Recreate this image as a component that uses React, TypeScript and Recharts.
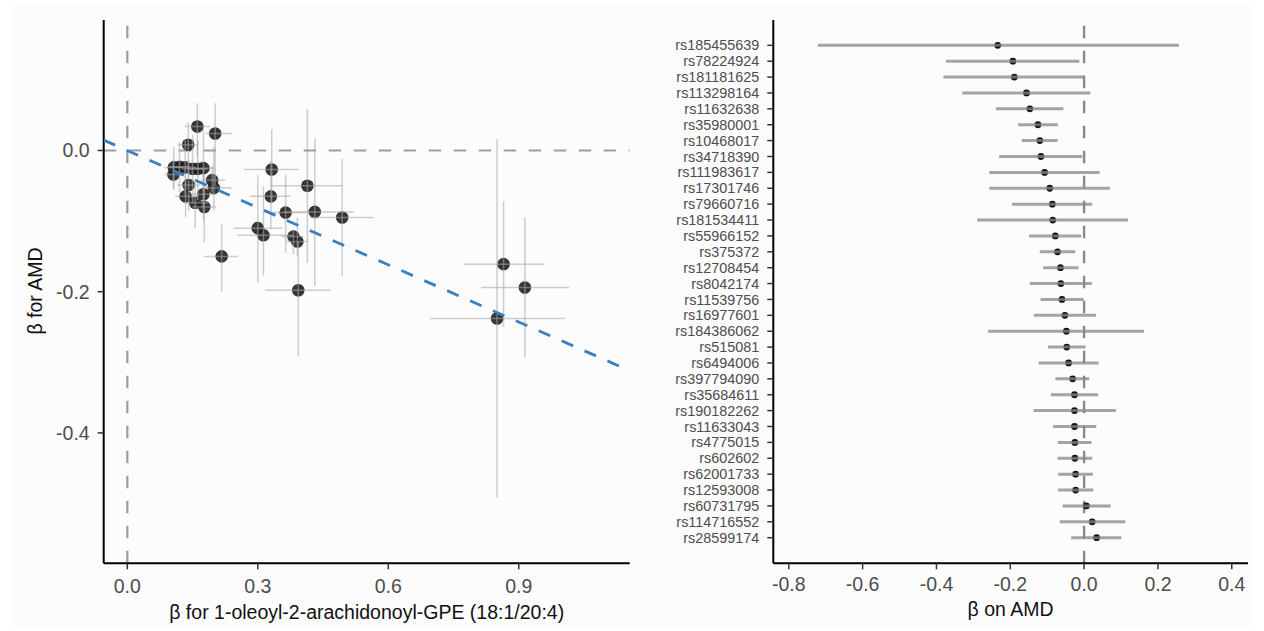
import React from "react";
import {
  ScatterChart,
  Scatter,
  XAxis,
  YAxis,
  ErrorBar,
  ReferenceLine,
} from "recharts";

// ---------- Left panel: MR scatter ----------
const exposureBeta = [
  0.161, 0.202, 0.140, 0.107, 0.120, 0.133, 0.150, 0.162, 0.175, 0.106, 0.141,
  0.195, 0.199, 0.134, 0.175, 0.156, 0.177, 0.217, 0.332, 0.414, 0.330, 0.364,
  0.431, 0.494, 0.300, 0.313, 0.382, 0.391, 0.393, 0.865, 0.914, 0.850,
];
const outcomeBeta = [
  0.034, 0.024, 0.008, -0.024, -0.023, -0.024, -0.026, -0.026, -0.025, -0.034,
  -0.049, -0.042, -0.053, -0.065, -0.062, -0.074, -0.080, -0.150, -0.027,
  -0.050, -0.065, -0.088, -0.087, -0.095, -0.110, -0.120, -0.122, -0.129,
  -0.198, -0.161, -0.194, -0.238,
];
const exposureLo = [
  0.131, 0.180, 0.115, 0.085, 0.095, 0.110, 0.125, 0.140, 0.150, 0.085, 0.115,
  0.170, 0.175, 0.110, 0.150, 0.130, 0.150, 0.177, 0.268, 0.332, 0.282, 0.320,
  0.360, 0.420, 0.244, 0.253, 0.355, 0.365, 0.317, 0.774, 0.813, 0.696,
];
const exposureHi = [
  0.190, 0.241, 0.163, 0.130, 0.145, 0.158, 0.176, 0.185, 0.200, 0.128, 0.168,
  0.225, 0.240, 0.160, 0.205, 0.185, 0.205, 0.255, 0.394, 0.494, 0.376, 0.410,
  0.520, 0.567, 0.356, 0.382, 0.405, 0.415, 0.468, 0.958, 1.016, 1.006,
];
const outcomeLo = [
  -0.009, -0.050, -0.040, -0.055, -0.060, -0.065, -0.075, -0.070, -0.080,
  -0.055, -0.085, -0.060, -0.085, -0.095, -0.100, -0.110, -0.130, -0.200,
  -0.075, -0.159, -0.110, -0.145, -0.192, -0.178, -0.187, -0.177, -0.147,
  -0.150, -0.291, -0.249, -0.293, -0.492,
];
const outcomeHi = [
  0.067, 0.067, 0.040, 0.005, 0.012, 0.015, 0.022, 0.015, 0.030, -0.012,
  -0.012, -0.022, 0.005, -0.035, -0.025, -0.040, -0.035, -0.105, 0.030, 0.059,
  -0.015, -0.034, 0.017, -0.012, -0.034, -0.050, -0.114, -0.095, -0.130,
  -0.072, -0.095, 0.016,
];
const ivwSlope = -0.27;
const leftXTicks = [0, 0.3, 0.6, 0.9];
const leftYTicks = [-0.4, -0.2, 0.0];
const leftXDomain = [-0.0543, 1.155];
const leftYDomain = [-0.5847, 0.1848];

// ---------- Right panel: single-SNP forest ----------
const snps = [
  "rs185455639", "rs78224924", "rs181181625", "rs113298164", "rs11632638",
  "rs35980001", "rs10468017", "rs34718390", "rs111983617", "rs17301746",
  "rs79660716", "rs181534411", "rs55966152", "rs375372", "rs12708454",
  "rs8042174", "rs11539756", "rs16977601", "rs184386062", "rs515081",
  "rs6494006", "rs397794090", "rs35684611", "rs190182262", "rs11633043",
  "rs4775015", "rs602602", "rs62001733", "rs12593008", "rs60731795",
  "rs114716552", "rs28599174",
];
const forestBeta = [
  -0.234, -0.193, -0.189, -0.156, -0.147, -0.125, -0.120, -0.117, -0.107,
  -0.093, -0.086, -0.085, -0.078, -0.072, -0.064, -0.063, -0.060, -0.052,
  -0.048, -0.047, -0.042, -0.031, -0.026, -0.026, -0.026, -0.025, -0.025,
  -0.023, -0.023, 0.006, 0.022, 0.034,
];
const forestLo = [
  -0.721, -0.374, -0.381, -0.330, -0.239, -0.179, -0.169, -0.230, -0.257,
  -0.257, -0.195, -0.290, -0.149, -0.120, -0.111, -0.147, -0.118, -0.136,
  -0.260, -0.098, -0.123, -0.078, -0.090, -0.137, -0.084, -0.071, -0.072,
  -0.070, -0.071, -0.058, -0.066, -0.035,
];
const forestHi = [
  0.257, -0.013, 0.001, 0.017, -0.056, -0.071, -0.072, -0.005, 0.042, 0.070,
  0.022, 0.119, -0.008, -0.024, -0.015, 0.021, -0.001, 0.032, 0.162, 0.004,
  0.039, 0.014, 0.038, 0.086, 0.033, 0.020, 0.022, 0.024, 0.025, 0.072,
  0.112, 0.101,
];
const rightXTicks = [-0.8, -0.6, -0.4, -0.2, 0.0, 0.2, 0.4];
const rightXDomain = [-0.842, 0.444];
const rightYDomain = [-0.613, 33.594];

// ---------- Tables built for the library ----------
const scatterData = exposureBeta.map((x, i) => ({
  x,
  y: outcomeBeta[i],
  ex: [x - exposureLo[i], exposureHi[i] - x],
  ey: [outcomeBeta[i] - outcomeLo[i], outcomeHi[i] - outcomeBeta[i]],
}));

const forestData = snps.map((name, i) => ({
  name,
  row: snps.length - i,
  b: forestBeta[i],
  eb: [forestBeta[i] - forestLo[i], forestHi[i] - forestBeta[i]],
}));
const rowTicks = forestData.map((d) => d.row);
const rowName = (v: number) => {
  const d = forestData.find((r) => r.row === v);
  return d ? d.name : "";
};

const FONT = '"Liberation Sans", Arial, Helvetica, sans-serif';
const fmt1 = (v: number) => v.toFixed(1);

const BigDot = (p: any) => (
  <circle cx={p.cx} cy={p.cy} r={6.3} fill="#1f1f1f" fillOpacity={0.9} />
);
const SmallDot = (p: any) => (
  <circle cx={p.cx} cy={p.cy} r={3.4} fill="#111" />
);
const NoShape = () => <g />;

const titleStyle = (
  x: number,
  y: number,
  size: number,
  rotate = 0
): React.CSSProperties => ({
  position: "absolute",
  left: x,
  top: y,
  transform: `translate(-50%, -50%) rotate(${rotate}deg)`,
  fontSize: size,
  lineHeight: 1,
  whiteSpace: "nowrap",
  color: "#111",
  fontFamily: FONT,
});

const abs = (left: number): React.CSSProperties => ({
  position: "absolute",
  left,
  top: 0,
});

// plot areas: left x 103.7..629.7, right x 773.3..1248, y 20..563.3
const LEFT_MARGIN = { top: 20, right: 10.3, bottom: 17.7, left: 43.7 };
const LEFT_OVERLAY_MARGIN = { top: 20, right: 10.3, bottom: 67.7, left: 103.7 };
const RIGHT_MARGIN = { top: 20, right: 16, bottom: 17.7, left: 13.3 };
const RIGHT_OVERLAY_MARGIN = { top: 20, right: 16, bottom: 67.7, left: 113.3 };

export default function App() {
  return (
    <div
      style={{
        position: "absolute",
        left: 0,
        top: 0,
        width: 1264,
        height: 631,
        background: "#ffffff",
        fontFamily: FONT,
        overflow: "hidden",
      }}
    >
      <div
        style={{
          position: "absolute",
          left: 10,
          top: 4,
          width: 1244,
          height: 623,
          background: "#fcfcfc",
        }}
      />
      {/* Left panel: axes, reference lines, points */}
      <div style={abs(0)}>
        <ScatterChart width={640} height={631} margin={LEFT_MARGIN}>
          <XAxis
            type="number"
            dataKey="x"
            domain={leftXDomain}
            allowDataOverflow
            ticks={leftXTicks}
            tickFormatter={fmt1}
            height={50}
            tickSize={6}
            tickMargin={10}
            axisLine={{ stroke: "#000", strokeWidth: 2 }}
            tickLine={{ stroke: "#333", strokeWidth: 1.5 }}
            tick={{ fontSize: 19.5, fill: "#4d4d4d" }}
          />
          <YAxis
            type="number"
            dataKey="y"
            domain={leftYDomain}
            allowDataOverflow
            ticks={leftYTicks}
            tickFormatter={fmt1}
            width={60}
            tickSize={6}
            tickMargin={8}
            axisLine={{ stroke: "#000", strokeWidth: 2 }}
            tickLine={{ stroke: "#333", strokeWidth: 1.5 }}
            tick={{ fontSize: 19.5, fill: "#4d4d4d" }}
          />
          <ReferenceLine
            y={0}
            stroke="#9e9e9e"
            strokeWidth={2.2}
            strokeDasharray="12.5 12.5"
          />
          <ReferenceLine
            x={0}
            stroke="#9e9e9e"
            strokeWidth={2.2}
            strokeDasharray="12.5 12.5"
          />
          <Scatter data={scatterData} shape={BigDot} isAnimationActive={false} />
        </ScatterChart>
      </div>
      {/* Left panel overlay: error bars and IVW line drawn on top of points */}
      <div style={abs(0)}>
        <ScatterChart width={640} height={631} margin={LEFT_OVERLAY_MARGIN}>
          <XAxis
            type="number"
            dataKey="x"
            domain={leftXDomain}
            allowDataOverflow
            hide
          />
          <YAxis
            type="number"
            dataKey="y"
            domain={leftYDomain}
            allowDataOverflow
            hide
          />
          <Scatter data={scatterData} shape={NoShape} isAnimationActive={false}>
            <ErrorBar
              dataKey="ex"
              direction="x"
              width={0}
              stroke="rgba(165,165,165,0.55)"
              strokeWidth={1.5}
              isAnimationActive={false}
            />
            <ErrorBar
              dataKey="ey"
              direction="y"
              width={0}
              stroke="rgba(165,165,165,0.55)"
              strokeWidth={1.5}
              isAnimationActive={false}
            />
          </Scatter>
          <ReferenceLine
            segment={[
              { x: leftXDomain[0], y: ivwSlope * leftXDomain[0] },
              { x: leftXDomain[1], y: ivwSlope * leftXDomain[1] },
            ]}
            stroke="#3a80c0"
            strokeWidth={2.8}
            strokeDasharray="12.5 12.5"
            ifOverflow="hidden"
          />
        </ScatterChart>
      </div>
      <div style={titleStyle(366.7, 613.3, 19.5)}>
        β for 1-oleoyl-2-arachidonoyl-GPE (18:1/20:4)
      </div>
      <div style={titleStyle(36, 291, 19.5, -90)}>β for AMD</div>

      {/* Right panel: axes, reference line, points */}
      <div style={abs(660)}>
        <ScatterChart width={604} height={631} margin={RIGHT_MARGIN}>
          <XAxis
            type="number"
            dataKey="b"
            domain={rightXDomain}
            allowDataOverflow
            ticks={rightXTicks}
            tickFormatter={fmt1}
            height={50}
            tickSize={6}
            tickMargin={8}
            axisLine={{ stroke: "#000", strokeWidth: 2 }}
            tickLine={{ stroke: "#333", strokeWidth: 1.5 }}
            tick={{ fontSize: 19.5, fill: "#4d4d4d" }}
          />
          <YAxis
            type="number"
            dataKey="row"
            domain={rightYDomain}
            allowDataOverflow
            ticks={rowTicks}
            interval={0}
            tickFormatter={rowName}
            width={100}
            tickSize={6}
            tickMargin={8}
            axisLine={{ stroke: "#000", strokeWidth: 2 }}
            tickLine={{ stroke: "#333", strokeWidth: 1.5 }}
            tick={{ fontSize: 14.4, fill: "#4d4d4d" }}
          />
          <ReferenceLine
            x={0}
            stroke="#8a8a8a"
            strokeWidth={2.4}
            strokeDasharray="12.5 12.5"
          />
          <Scatter data={forestData} shape={SmallDot} isAnimationActive={false} />
        </ScatterChart>
      </div>
      {/* Right panel overlay: CI bars on top of points */}
      <div style={abs(660)}>
        <ScatterChart width={604} height={631} margin={RIGHT_OVERLAY_MARGIN}>
          <XAxis
            type="number"
            dataKey="b"
            domain={rightXDomain}
            allowDataOverflow
            hide
          />
          <YAxis
            type="number"
            dataKey="row"
            domain={rightYDomain}
            allowDataOverflow
            hide
          />
          <Scatter data={forestData} shape={NoShape} isAnimationActive={false}>
            <ErrorBar
              dataKey="eb"
              direction="x"
              width={0}
              stroke="rgba(135,135,135,0.75)"
              strokeWidth={3}
              isAnimationActive={false}
            />
          </Scatter>
        </ScatterChart>
      </div>
      <div style={titleStyle(1010.5, 610, 19.5)}>β on AMD</div>
    </div>
  );
}
